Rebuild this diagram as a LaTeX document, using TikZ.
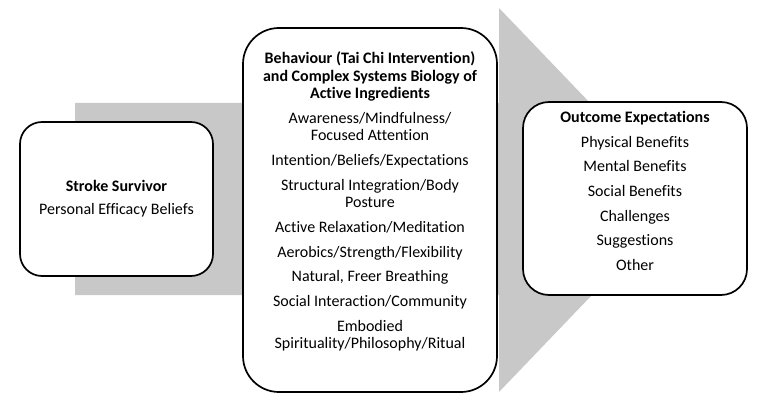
\documentclass[tikz,border=0pt]{standalone}
\usepackage{fontspec}
\setmainfont{Carlito}[Ligatures={NoCommon}]
\definecolor{arrowgray}{RGB}{200,200,200}
\begin{document}
\begin{tikzpicture}[x=1pt,y=-1pt,
  box/.style={draw=black, line width=1.7pt, fill=white, rounded corners=#1, inner sep=0pt},
  txt/.style={align=center, font=\fontsize{16}{17.5}\selectfont, inner sep=0pt, anchor=north}]
\useasboundingbox (0,0) rectangle (759,403);
% big gray arrow
\fill[arrowgray] (75,103) -- (499,103) -- (499,8) -- (683,200) -- (499,392) -- (499,295) -- (75,295) -- cycle;
% boxes
\node[box=22pt, minimum width=193pt, minimum height=154pt] (survivor) at (116.5,199) {};
\node[box=36pt, minimum width=254pt, minimum height=364pt] (behaviour) at (370,210) {};
\node[box=26pt, minimum width=224pt, minimum height=193pt] (outcome) at (635,198.5) {};
% texts
\node[txt] (survivortext) at (116.5,180) {\textbf{Stroke Survivor}\\[5.8pt]Personal Efficacy Beliefs};
\node[txt] (behaviourtext) at (370,51.5) {\textbf{Behaviour (Tai Chi Intervention)}\\
\textbf{and Complex Systems Biology of}\\
\textbf{Active Ingredients}\\[7.2pt]
Awareness/Mindfulness/\\Focused Attention\\[7.2pt]
Intention/Beliefs/Expectations\\[7.2pt]
Structural Integration/Body\\Posture\\[7.2pt]
Active Relaxation/Meditation\\[7.2pt]
Aerobics/Strength/Flexibility\\[7.2pt]
Natural, Freer Breathing\\[7.2pt]
Social Interaction/Community\\[7.2pt]
Embodied\\Spirituality/Philosophy/Ritual};
\node[txt] (outcometext) at (635,111) {\textbf{Outcome Expectations}\\[7.2pt]
Physical Benefits\\[7.2pt]
Mental Benefits\\[7.2pt]
Social Benefits\\[7.2pt]
Challenges\\[7.2pt]
Suggestions\\[7.2pt]
Other};
\end{tikzpicture}
\end{document}
